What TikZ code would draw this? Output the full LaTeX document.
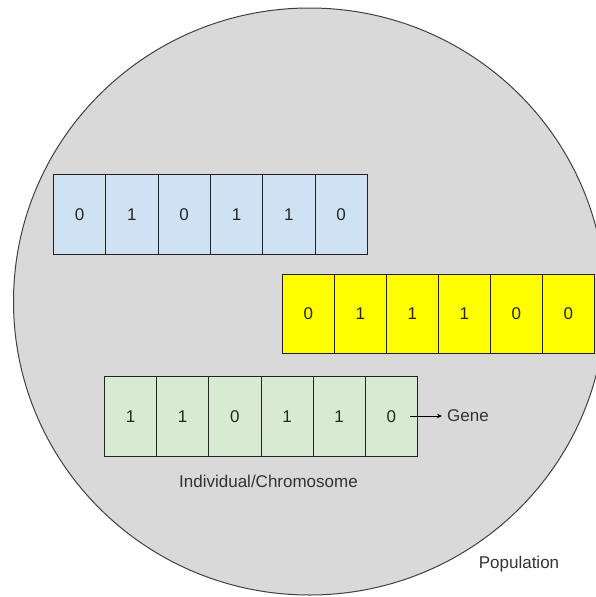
\documentclass[tikz,border=0pt]{standalone}
\usepackage{fontspec}
\setmainfont{Liberation Sans}
\usetikzlibrary{arrows.meta}
\definecolor{popgray}{HTML}{D9D9D9}
\definecolor{cblue}{HTML}{CFE2F3}
\definecolor{cgreen}{HTML}{D9EAD3}
\definecolor{cyellow}{HTML}{FFFF00}
\definecolor{edge}{HTML}{222222}
\begin{document}
\begin{tikzpicture}[x=1pt,y=-1pt,
  cell/.style={draw=edge, line width=0.8pt, minimum height=80pt, inner sep=0pt,
    anchor=north west, font=\fontsize{17}{19}\selectfont, text=black!85},
  lbl/.style={font=\fontsize{17}{19}\selectfont, text=black!80, inner sep=0pt}]
\useasboundingbox (0,0) rectangle (595,597);
% population
\draw[fill=popgray, draw=black!75, line width=1pt] (309.5,301.5) ellipse [x radius=296, y radius=293.5];
% blue chromosome
\foreach \v [count=\i from 0] in {0,1,0,1,1,0}
  \node[cell, fill=cblue, minimum width=52.33pt] (b\i) at (53+\i*52.33,174) {\v};
% yellow chromosome
\foreach \v [count=\i from 0] in {0,1,1,1,0,0}
  \node[cell, fill=cyellow, minimum width=52pt, minimum height=79pt] (y\i) at (282+\i*52,274) {\v};
% green chromosome
\foreach \v [count=\i from 0] in {1,1,0,1,1,0}
  \node[cell, fill=cgreen, minimum width=52.17pt] (g\i) at (104+\i*52.17,376) {\v};
% gene
\coordinate (gstart) at (410,416);
\node[lbl, anchor=west, inner xsep=5pt] (gene) at (442,416) {Gene};
\draw[line width=0.9pt, -{Stealth[length=5pt,width=4.5pt]}] (gstart) -- (gene.west);
% labels
\node[lbl, anchor=base] (indiv) at (268.5,487.5) {Individual/Chromosome};
\node[lbl, anchor=base] (pop) at (519,568) {Population};
\end{tikzpicture}
\end{document}
